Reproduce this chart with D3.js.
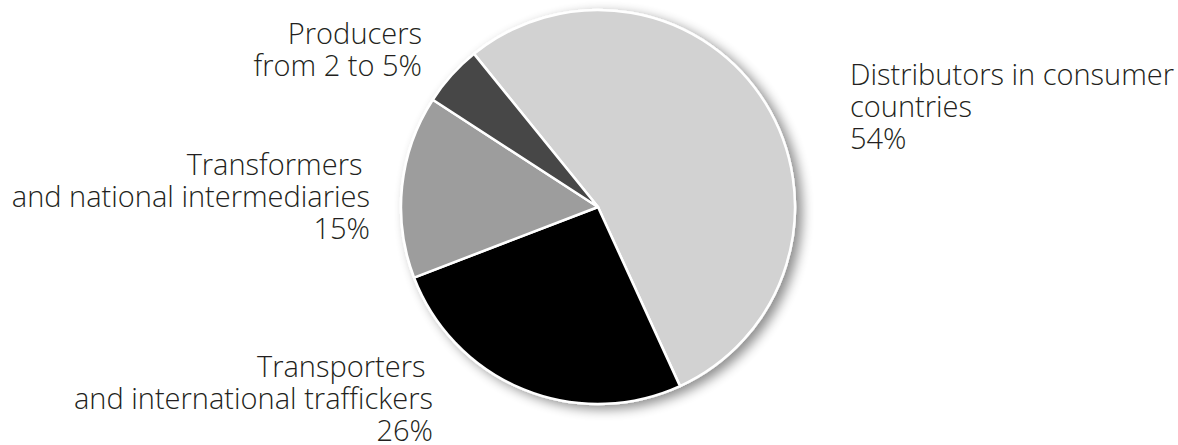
<!DOCTYPE html>
<html>
<head>
<meta charset="utf-8">
<script src="https://cdn.jsdelivr.net/npm/d3@7"></script>
<style>
  body { margin: 0; background: #fff; }
  svg text { font-family: "Open Sans", "Noto Sans", sans-serif; fill: #231f20; }
</style>
</head>
<body>
<div id="chart"></div>
<script>
// chart size
var svgWidth = 1178;
var svgHeight = 445;

// data, clockwise from the top-left edge of the biggest slice
var segments = ["Distributors", "Transporters", "Transformers", "Producers"];
var shares = [54, 26, 15, 5];
var sliceColors = ["#d2d2d2", "#050505", "#9d9d9d", "#474747"];

// label lines for each slice
var labelLines = [
  ["Distributors in consumer", "countries", "54%"],
  ["Transporters ", "and international traffickers", "26%"],
  ["Transformers ", "and national intermediaries", "15%"],
  ["Producers", "from 2 to 5%"]
];

// pie position
var cx = 598, cy = 207, radius = 197;
var startDeg = -39;

var svg = d3.select("#chart")
  .append("svg")
  .attr("width", svgWidth)
  .attr("height", svgHeight);

// drop shadow
var defs = svg.append("defs");
var filter = defs.append("filter")
  .attr("id", "drop-shadow")
  .attr("x", "-20%").attr("y", "-20%")
  .attr("width", "140%").attr("height", "140%");
filter.append("feGaussianBlur")
  .attr("in", "SourceAlpha")
  .attr("stdDeviation", 6)
  .attr("result", "blur");
filter.append("feOffset")
  .attr("in", "blur")
  .attr("dx", 6)
  .attr("dy", 4)
  .attr("result", "offsetBlur");
filter.append("feComponentTransfer")
  .attr("in", "offsetBlur")
  .attr("result", "softShadow")
  .append("feFuncA").attr("type", "linear").attr("slope", 0.45);
var feMerge = filter.append("feMerge");
feMerge.append("feMergeNode").attr("in", "softShadow");
feMerge.append("feMergeNode").attr("in", "SourceGraphic");

var pie = d3.pie()
  .sort(null)
  .value(d => d)
  .startAngle(startDeg * Math.PI / 180)
  .endAngle((startDeg + 360) * Math.PI / 180);

var arc = d3.arc()
  .innerRadius(0)
  .outerRadius(radius);

var pieGroup = svg.append("g")
  .attr("transform", `translate(${cx}, ${cy})`);

pieGroup.append("g")
  .style("filter", "url(#drop-shadow)")
  .selectAll("path")
  .data(pie(shares))
  .enter()
  .append("path")
  .attr("d", arc)
  .attr("fill", (d, i) => sliceColors[i])
  .attr("stroke", "#ffffff")
  .attr("stroke-width", 2.5)
  .attr("stroke-linejoin", "round");

// labels
var fontSize = 29;
var lineGap = 32;
var labelPos = [
  {x: 850, y: 85, anchor: "start"},
  {x: 433, y: 377, anchor: "end"},
  {x: 370, y: 175, anchor: "end"},
  {x: 422, y: 44, anchor: "end"}
];

labelLines.forEach(function(lines, i) {
  var p = labelPos[i];
  var t = svg.append("text")
    .attr("x", p.x)
    .attr("y", p.y)
    .attr("text-anchor", p.anchor)
    .style("font-size", fontSize + "px")
    .style("font-weight", 300)
    .style("white-space", "pre");
  lines.forEach(function(line, j) {
    t.append("tspan")
      .attr("x", p.x)
      .attr("y", p.y + j * lineGap)
      .text(line);
  });
});
</script>
</body>
</html>
